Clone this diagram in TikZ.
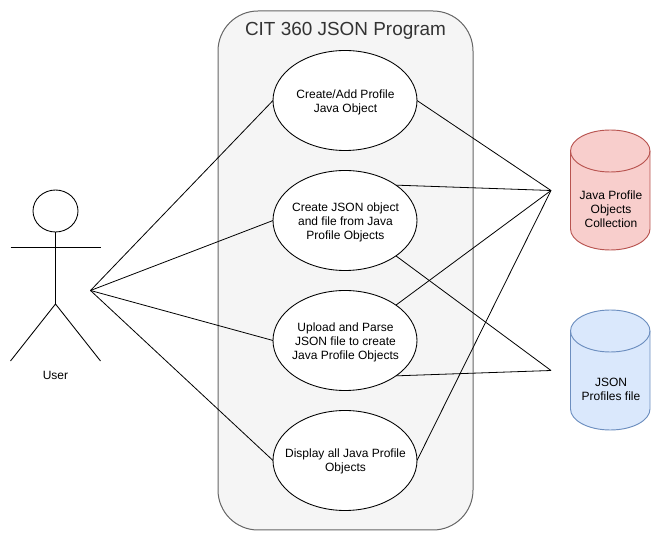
\documentclass[tikz,border=0pt]{standalone}
\usepackage{fontspec}
\setmainfont{Liberation Sans}
\usetikzlibrary{shapes.geometric}
\definecolor{panelfill}{HTML}{F5F5F5}
\definecolor{panelline}{HTML}{666666}
\definecolor{titletext}{HTML}{333333}
\definecolor{redfill}{HTML}{F8CECC}
\definecolor{redline}{HTML}{B85450}
\definecolor{bluefill}{HTML}{DAE8FC}
\definecolor{blueline}{HTML}{6C8EBF}
\tikzset{
  usecase/.style={ellipse,draw=black,fill=white,line width=0.65pt,inner sep=0pt,outer sep=0pt,
    minimum width=108pt,minimum height=75pt},
  lbl/.style={inner sep=0pt,outer sep=0pt,align=center,text=black,font=\fontsize{9}{10.5}\selectfont},
  wire/.style={draw=black,line width=0.6pt},
  actorline/.style={draw=black,line width=0.65pt},
  cyl/.style={line width=0.7pt,line join=round}
}
\begin{document}
\begin{tikzpicture}[x=0.75pt,y=-0.75pt]
\useasboundingbox (0,0) rectangle (661,541);
% container
\draw[fill=panelfill,draw=panelline,line width=0.75pt,rounded corners=30pt] (218,11) rectangle (473,530);
\node[inner sep=0pt,text=titletext,font=\fontsize{14.2}{17}\selectfont] (title) at (345.5,30.5) {CIT 360 JSON Program};
% use cases
\node[usecase] (e1) at (345,100.5) {};
\node[usecase] (e2) at (345,220.5) {};
\node[usecase] (e3) at (345,340.5) {};
\node[usecase] (e4) at (345,460.5) {};
\node[lbl] (t1) at (345.5,102) {Create/Add Profile\\Java Object};
\node[lbl] (t2) at (345.5,222) {Create JSON object\\and file from Java\\Profile Objects};
\node[lbl] (t3) at (345.5,342) {Upload and Parse\\JSON file to create\\Java Profile Objects};
\node[lbl] (t4) at (345.5,461.5) {Display all Java Profile\\Objects};
% actor
\draw[actorline,fill=white] (55.5,211) ellipse [x radius=22.5,y radius=21];
\coordinate (hip) at (55.5,304);
\draw[actorline] (55.5,232) -- (hip);
\draw[actorline] (10.5,247) -- (100.5,247);
\draw[actorline] (10.5,361) -- (hip) -- (100.5,361);
\node[lbl] (user) at (55.5,375) {User};
% junction points
\coordinate (ua) at (90.5,290.5);
\coordinate (ja) at (551,190.5);
\coordinate (jb) at (551,370.5);
% connectors
\draw[wire] (ua) -- (e1.west);
\draw[wire] (ua) -- (e2.west);
\draw[wire] (ua) -- (e3.west);
\draw[wire] (ua) -- (e4.west);
\draw[wire] (e1.east) -- (ja);
\draw[wire] (e2.north east) -- (ja);
\draw[wire] (e3.north east) -- (ja);
\draw[wire] (e4.east) -- (ja);
\draw[wire] (e2.south east) -- (jb);
\draw[wire] (e3.south east) -- (jb);
% cylinders
\draw[cyl,fill=redfill,draw=redline]
  (570.5,151) arc[start angle=180,end angle=360,x radius=39.75,y radius=21]
  -- (650,229) arc[start angle=0,end angle=180,x radius=39.75,y radius=21] -- cycle;
\draw[cyl,draw=redline] (570.5,151) arc[start angle=180,end angle=0,x radius=39.75,y radius=21];
\node[lbl] (c1) at (611,209.5) {Java Profile\\Objects\\Collection};
\draw[cyl,fill=bluefill,draw=blueline]
  (570.5,331) arc[start angle=180,end angle=360,x radius=39.75,y radius=21]
  -- (650,409) arc[start angle=0,end angle=180,x radius=39.75,y radius=21] -- cycle;
\draw[cyl,draw=blueline] (570.5,331) arc[start angle=180,end angle=0,x radius=39.75,y radius=21];
\node[lbl] (c2) at (611,389.5) {JSON\\ Profiles file};
\end{tikzpicture}
\end{document}
